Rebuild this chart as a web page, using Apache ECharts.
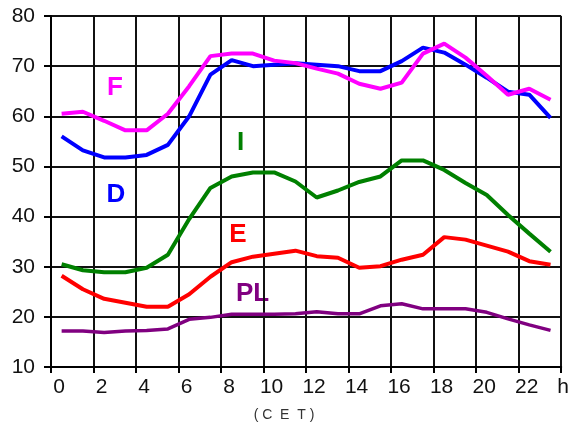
<!DOCTYPE html>
<html>
<head>
<meta charset="utf-8">
<script src="https://cdn.jsdelivr.net/npm/echarts@6/dist/echarts.min.js"></script>
<style>
  html, body { margin: 0; padding: 0; background: #fff; }
  #chart { width: 572px; height: 428px; }
</style>
</head>
<body>
<div id="chart"></div>
<script>
// hourly values, plotted at the middle of each hour (0.5 ... 23.5)
const hours = [0.5, 1.5, 2.5, 3.5, 4.5, 5.5, 6.5, 7.5, 8.5, 9.5, 10.5, 11.5,
  12.5, 13.5, 14.5, 15.5, 16.5, 17.5, 18.5, 19.5, 20.5, 21.5, 22.5, 23.5];
const valF = [60.5, 60.9, 59.1, 57.2, 57.2, 60.5, 66, 72, 72.5, 72.5, 71.1, 70.6,
  69.5, 68.5, 66.5, 65.5, 66.7, 72.5, 74.5, 71.7, 68.1, 64.3, 65.5, 63.3];
const valD = [56, 53.2, 51.8, 51.8, 52.3, 54.3, 60, 68.3, 71.2, 70, 70.3, 70.6,
  70.3, 70, 69, 69, 71, 73.7, 72.7, 70.3, 67.7, 64.9, 64.3, 59.7];
const valI = [30.5, 29.3, 28.9, 28.9, 29.8, 32.4, 39.5, 45.7, 48, 48.8, 48.8, 47,
  43.8, 45.2, 46.9, 48, 51.2, 51.2, 49.3, 46.7, 44.3, 40.3, 36.6, 33];
const valE = [28.2, 25.5, 23.6, 22.8, 22, 22, 24.5, 28, 30.9, 32, 32.6, 33.2,
  32.1, 31.8, 29.8, 30.1, 31.4, 32.4, 35.9, 35.4, 34.2, 33, 31.1, 30.4];
const valPL = [17.2, 17.2, 16.9, 17.2, 17.3, 17.6, 19.5, 19.9, 20.5, 20.5, 20.5, 20.6,
  21, 20.6, 20.6, 22.2, 22.6, 21.6, 21.6, 21.6, 20.9, 19.6, 18.4, 17.3];

const seriesNames = ['D', 'F', 'I', 'E', 'PL'];
const seriesValues = [valD, valF, valI, valE, valPL];
const colors = ['#0000ff', '#ff00ff', '#008000', '#ff0000', '#800080'];

const chart = echarts.init(document.getElementById('chart'), null, { renderer: 'canvas' });

function pairs(vals) {
  return vals.map((v, i) => [hours[i], v]);
}

const font = 'Liberation Sans';

let option = {
  backgroundColor: '#ffffff',
  animation: false,
  textStyle: { fontFamily: font },
  grid: { left: 51, right: 9, top: 16, bottom: 61 },
  xAxis: {
    type: 'value',
    min: 0,
    max: 24,
    interval: 2,
    axisLine: { lineStyle: { color: '#000', width: 2 } },
    axisTick: { show: true, length: 6, lineStyle: { color: '#000', width: 2 } },
    splitLine: { show: true, lineStyle: { color: '#111', width: 2 } },
    axisLabel: {
      margin: 10,
      color: '#111',
      fontSize: 21,
      fontFamily: font,
      formatter: function (v) {
        return v === 24 ? '{h|h}' : '{n|' + v + '}';
      },
      rich: {
        n: { fontSize: 21, fontFamily: font, color: '#111', padding: [0, 0, 0, 16] },
        h: { fontSize: 21, fontFamily: font, color: '#111', padding: [0, 0, 0, 4] }
      }
    }
  },
  yAxis: {
    type: 'value',
    min: 10,
    max: 80,
    interval: 10,
    axisLine: { show: true, lineStyle: { color: '#000', width: 2 } },
    axisTick: { show: true, length: 7, lineStyle: { color: '#000', width: 2 } },
    splitLine: { show: true, lineStyle: { color: '#111', width: 2 } },
    axisLabel: { margin: 16, color: '#111', fontSize: 21, fontFamily: font }
  },
  graphic: [
    { type: 'text', x: 115, y: 88, style: { text: 'F', fill: '#ff00ff', font: 'bold 26px ' + font, textAlign: 'center', textVerticalAlign: 'middle' } },
    { type: 'text', x: 116, y: 195, style: { text: 'D', fill: '#0000ff', font: 'bold 26px ' + font, textAlign: 'center', textVerticalAlign: 'middle' } },
    { type: 'text', x: 240.5, y: 143, style: { text: 'I', fill: '#008000', font: 'bold 26px ' + font, textAlign: 'center', textVerticalAlign: 'middle' } },
    { type: 'text', x: 238, y: 235, style: { text: 'E', fill: '#ff0000', font: 'bold 26px ' + font, textAlign: 'center', textVerticalAlign: 'middle' } },
    { type: 'text', x: 252.5, y: 294, style: { text: 'PL', fill: '#800080', font: 'bold 26px ' + font, textAlign: 'center', textVerticalAlign: 'middle' } },
    // axis unit, letter-spaced like the original
    { type: 'text', x: 284, y: 415, style: { text: '( C  E  T )', fill: '#333', font: '14px ' + font, textAlign: 'center', textVerticalAlign: 'middle' } }
  ],
  series: seriesNames.map((name, i) => ({
    name: name,
    type: 'line',
    data: pairs(seriesValues[i]),
    showSymbol: false,
    symbol: 'none',
    lineStyle: { color: colors[i], width: name === 'PL' ? 3.5 : 4 },
    z: 3
  }))
};

chart.setOption(option);
</script>
</body>
</html>
